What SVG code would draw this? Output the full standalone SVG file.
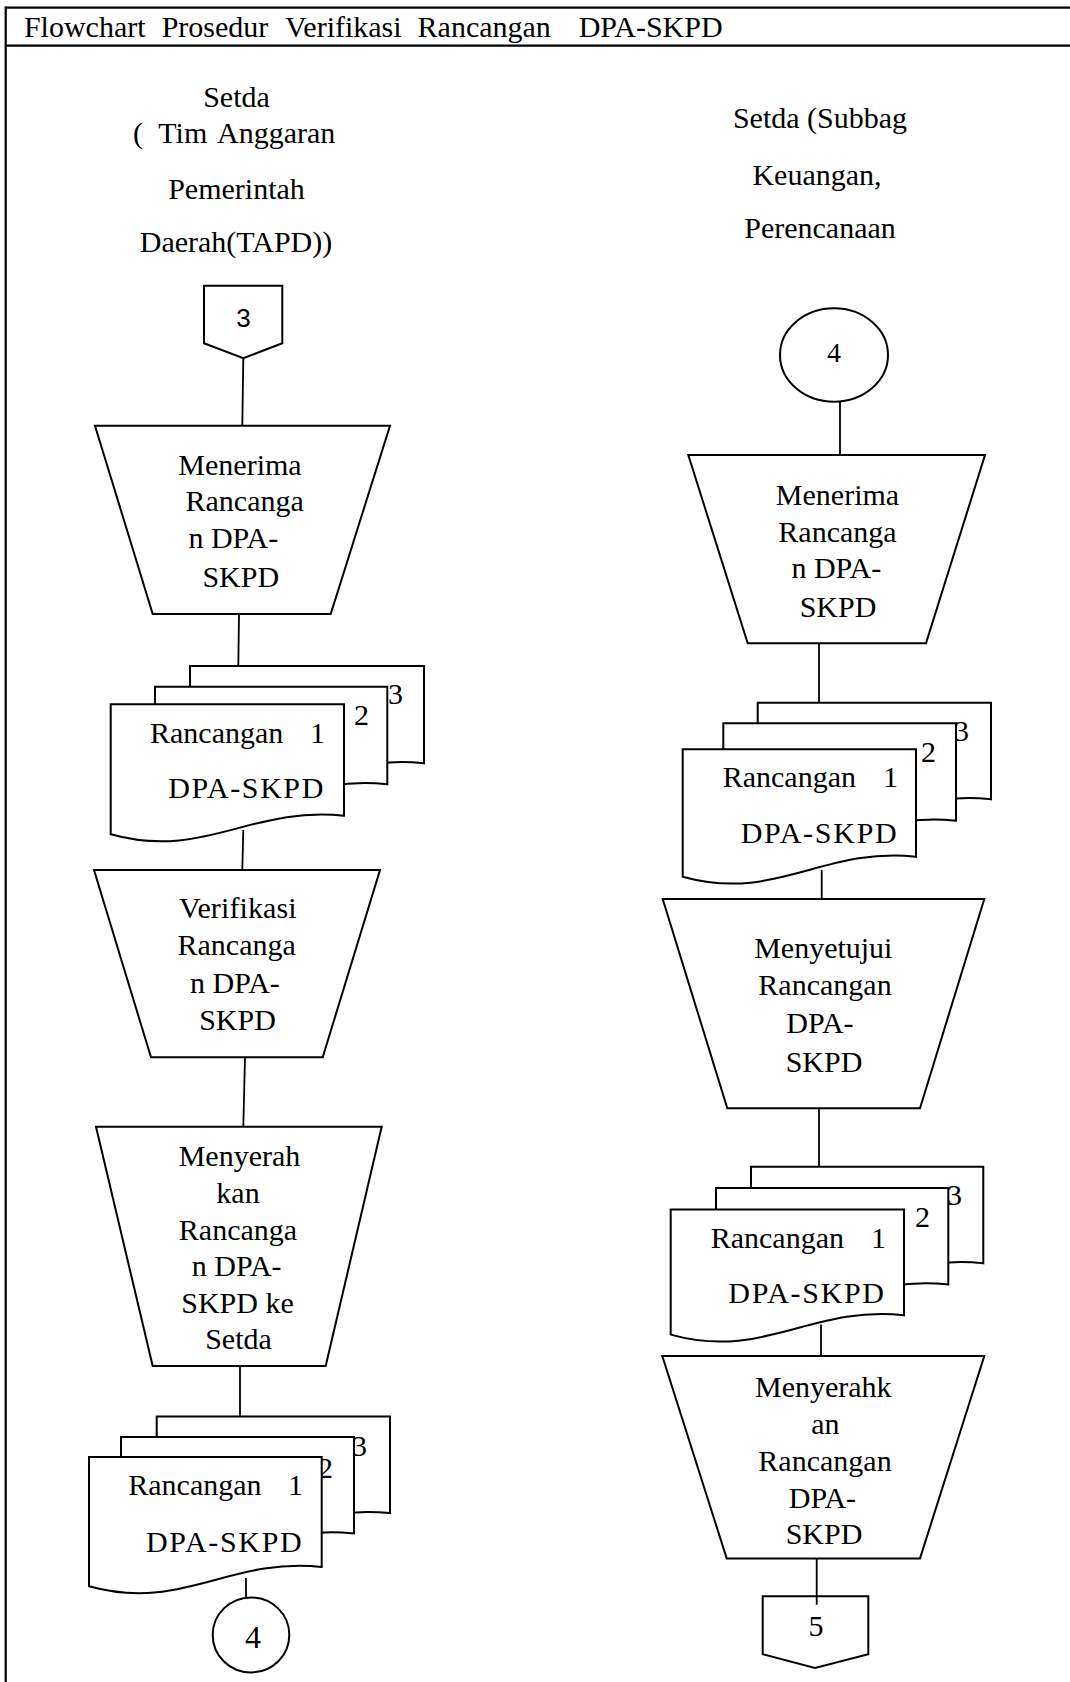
<svg xmlns="http://www.w3.org/2000/svg" width="1070" height="1682" viewBox="0 0 1070 1682">
<style>
.sh{fill:#fff;stroke:#000;stroke-width:2;stroke-linejoin:miter}
.ln{stroke:#000;stroke-width:1.8;fill:none}
.fr{stroke:#000;stroke-width:2.2;fill:none}
text{font-family:"Liberation Serif","Times New Roman",serif;font-size:30px;fill:#000}
.m{text-anchor:middle}
.sans{font-family:"Liberation Sans",Arial,sans-serif;font-size:26px}
</style>
<rect width="1070" height="1682" fill="#fff"/>
<g id="frame">
<line class="fr" x1="5.7" y1="7.7" x2="1070" y2="7.7"/>
<line class="fr" x1="5.7" y1="45.7" x2="1070" y2="45.7"/>
<line class="fr" x1="5.7" y1="6.6" x2="5.7" y2="1682"/>
<text y="37"><tspan x="23.9">Flowchart</tspan><tspan x="161.7">Prosedur</tspan><tspan x="285">Verifikasi</tspan><tspan x="417.6">Rancangan</tspan><tspan x="578.7">DPA-SKPD</tspan></text>
</g>
<g id="lane-left-header">
<text class="m" x="236.5" y="106.7">Setda</text>
<text y="142.7"><tspan x="133">(</tspan><tspan x="158.3">Tim</tspan><tspan x="217">Anggaran</tspan></text>
<text class="m" x="236.5" y="199">Pemerintah</text>
<text class="m" x="236" y="252">Daerah(TAPD))</text>
</g>
<g id="lane-right-header">
<text class="m" x="820" y="128">Setda (Subbag</text>
<text class="m" x="817" y="185">Keuangan,</text>
<text class="m" x="820" y="238">Perencanaan</text>
</g>
<g id="connectors">
<line class="ln" x1="243.3" y1="358.3" x2="242.3" y2="425.7"/>
<line class="ln" x1="239" y1="614" x2="238.3" y2="666"/>
<line class="ln" x1="243.3" y1="830" x2="242.3" y2="870"/>
<line class="ln" x1="245" y1="1057.3" x2="243.3" y2="1126.7"/>
<line class="ln" x1="240" y1="1366.1" x2="240" y2="1416.6"/>
<line class="ln" x1="246" y1="1578" x2="246" y2="1597.4"/>
<line class="ln" x1="840" y1="401.7" x2="840" y2="455"/>
<line class="ln" x1="819" y1="643.3" x2="819" y2="702.7"/>
<line class="ln" x1="821.7" y1="870" x2="821.7" y2="899"/>
<line class="ln" x1="819" y1="1108.3" x2="819" y2="1166.8"/>
<line class="ln" x1="821" y1="1324.6" x2="821" y2="1356.1"/>
</g>
<g id="off-page-3">
<polygon class="sh" points="204,285.7 282.3,285.7 282.3,343.3 243.3,358.3 204,343.3"/>
<text class="sans m" x="243.5" y="327">3</text>
</g>
<g id="proc-menerima-left">
<polygon class="sh" points="95,425.7 390,425.7 330.7,614 152.7,614"/>
<text class="m" x="240" y="475">Menerima</text>
<text class="m" x="244.7" y="510.7">Rancanga</text>
<text class="m" x="233.3" y="548">n DPA-</text>
<text class="m" x="240.8" y="586.7">SKPD</text>
</g>
<g id="doc-stack-1">
<path class="sh" d="M190,666 H424 V763.3 C330.4,753.3 283.6,807.9 190,781.9 Z"/>
<text x="388" y="704.3">3</text>
<path class="sh" d="M155,686.7 H387.3 V784.3 C294.1,774.3 248.3,828.9 155,802.9 Z"/>
<text x="354" y="725">2</text>
<path class="sh" d="M110.7,704.3 H344 V815.7 C250.7,805.7 204,860.3 110.7,834.3 Z"/>
<text x="150" y="743.3">Rancangan</text>
<text x="310" y="743.3">1</text>
<text x="168.3" y="798.3" textLength="155" lengthAdjust="spacing">DPA-SKPD</text>
</g>
<g id="proc-verifikasi">
<polygon class="sh" points="94,870 380,870 322.7,1057.3 151,1057.3"/>
<text class="m" x="237.8" y="918.3" textLength="117.7" lengthAdjust="spacing">Verifikasi</text>
<text class="m" x="236.7" y="955">Rancanga</text>
<text class="m" x="235" y="993.3">n DPA-</text>
<text class="m" x="237.5" y="1030">SKPD</text>
</g>
<g id="proc-menyerahkan-left">
<polygon class="sh" points="96,1126.7 381.7,1126.7 325.7,1366.1 152.7,1366.1"/>
<text class="m" x="239.5" y="1166.1">Menyerah</text>
<text class="m" x="238" y="1203.2">kan</text>
<text class="m" x="238" y="1240.3">Rancanga</text>
<text class="m" x="236.7" y="1276.3">n DPA-</text>
<text class="m" x="237.5" y="1313.4">SKPD ke</text>
<text class="m" x="238.5" y="1348.7">Setda</text>
</g>
<g id="doc-stack-2">
<path class="sh" d="M156.7,1416.6 H390 V1513.1 C296.7,1503.1 250,1557.7 156.7,1531.7 Z"/>
<text x="352" y="1456.3">3</text>
<path class="sh" d="M121,1437 H354 V1533.5 C260.8,1523.5 214.2,1578.1 121,1552.1 Z"/>
<text x="318" y="1477.8">2</text>
<path class="sh" d="M89,1457.1 H321.7 V1566.9 C228.6,1556.9 182.1,1612.2 89,1586.2 Z"/>
<text x="128.3" y="1495.3">Rancangan</text>
<text x="288" y="1495.3">1</text>
<text x="146" y="1552.1" textLength="155.7" lengthAdjust="spacing">DPA-SKPD</text>
</g>
<g id="connector-4-left">
<ellipse class="sh" cx="251" cy="1634.9" rx="38.3" ry="37.5"/>
<text class="m" x="253" y="1647.5" style="font-size:32px">4</text>
</g>
<g id="connector-4-right">
<ellipse class="sh" cx="834" cy="355" rx="54" ry="46.7"/>
<text class="m" x="834" y="362.3" style="font-size:28px">4</text>
</g>
<g id="proc-menerima-right">
<polygon class="sh" points="688.3,455 985,455 926,643.3 747.7,643.3"/>
<text class="m" x="837.5" y="505">Menerima</text>
<text class="m" x="837.5" y="541.7">Rancanga</text>
<text class="m" x="836.3" y="578.3">n DPA-</text>
<text class="m" x="838" y="616.7">SKPD</text>
</g>
<g id="doc-stack-3">
<path class="sh" d="M757.7,702.7 H991 V799.3 C897.7,789.3 851,843.9 757.7,817.9 Z"/>
<text x="954" y="740.7">3</text>
<path class="sh" d="M723.3,723.3 H956 V820.7 C862.9,810.7 816.4,865.3 723.3,839.3 Z"/>
<text x="921" y="761.7">2</text>
<path class="sh" d="M682.7,749.3 H916 V856.7 C822.7,846.7 776,902.7 682.7,876.7 Z"/>
<text x="722.7" y="787.3">Rancangan</text>
<text x="883" y="787.3">1</text>
<text x="740.7" y="843.3" textLength="156" lengthAdjust="spacing">DPA-SKPD</text>
</g>
<g id="proc-menyetujui">
<polygon class="sh" points="662.7,899 984.3,899 920,1108.3 727.3,1108.3"/>
<text class="m" x="823.3" y="958.3">Menyetujui</text>
<text class="m" x="825" y="995">Rancangan</text>
<text class="m" x="820" y="1033.3">DPA-</text>
<text class="m" x="824" y="1071.7">SKPD</text>
</g>
<g id="doc-stack-4">
<path class="sh" d="M751,1166.8 H983.3 V1263.3 C890.4,1253.3 843.9,1307.9 751,1281.9 Z"/>
<text x="947" y="1205">3</text>
<path class="sh" d="M716,1188 H948.3 V1284.5 C855.4,1274.5 808.9,1329.1 716,1303.1 Z"/>
<text x="915" y="1227.3">2</text>
<path class="sh" d="M670.7,1209.5 H904 V1315.3 C810.7,1305.3 764,1360.6 670.7,1334.6 Z"/>
<text x="710.7" y="1247.7">Rancangan</text>
<text x="871" y="1247.7">1</text>
<text x="728.3" y="1303.4" textLength="155.7" lengthAdjust="spacing">DPA-SKPD</text>
</g>
<g id="proc-menyerahkan-right">
<polygon class="sh" points="662.3,1356.1 984.3,1356.1 920,1558.4 726.7,1558.4"/>
<text class="m" x="823.3" y="1396.9">Menyerahk</text>
<text class="m" x="825.3" y="1434">an</text>
<text class="m" x="825" y="1471.2">Rancangan</text>
<text class="m" x="822.5" y="1508.3">DPA-</text>
<text class="m" x="824" y="1543.5">SKPD</text>
</g>
<g id="off-page-5">
<polygon class="sh" points="762.7,1596.3 868.3,1596.3 868.3,1654.2 815,1667.9 762.7,1654.2"/>
<text class="m" x="816" y="1635.6">5</text>
<line class="ln" x1="816.7" y1="1558.4" x2="816.7" y2="1604.8"/>
</g>
</svg>
